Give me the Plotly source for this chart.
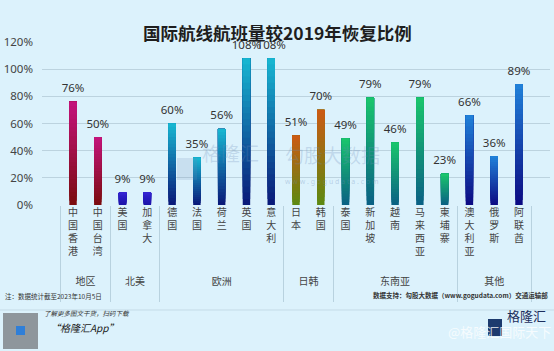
import plotly.graph_objects as go

# ---- data ----
groups = ["地区", "北美", "欧洲", "日韩", "东南亚", "其他"]
countries = [
    ["中国香港", "中国台湾"],
    ["美国", "加拿大"],
    ["德国", "法国", "荷兰", "英国", "意大利"],
    ["日本", "韩国"],
    ["泰国", "新加坡", "越南", "马来西亚", "柬埔寨"],
    ["澳大利亚", "俄罗斯", "阿联酋"],
]
values = [
    [76, 50],
    [9, 9],
    [60, 35, 56, 108, 108],
    [51, 70],
    [49, 79, 46, 79, 23],
    [66, 36, 89],
]
y_ticks = [0, 20, 40, 60, 80, 100, 120]
y_tick_labels = ["0%", "20%", "40%", "60%", "80%", "100%", "120%"]
# gradient colours per group: (top, bottom)
group_colors = [
    ((196, 20, 124), (122, 12, 14)),
    ((52, 36, 210), (28, 20, 168)),
    ((24, 184, 210), (10, 24, 120)),
    ((204, 90, 20), (92, 138, 18)),
    ((26, 198, 108), (10, 96, 132)),
    ((32, 130, 218), (12, 10, 130)),
]

W, H = 554, 351
ML, MR, MT, MB = 42, 4, 42, 146
PW, PH = W - ML - MR, H - MT - MB


def px(x):
    return (x - ML) / PW


def py(y):
    return (H - MB - y) / PH


lvl0, lvl1, vals, tops, bots = [], [], [], [], []
for g, cs, vs, (ct, cb) in zip(groups, countries, values, group_colors):
    for c, v in zip(cs, vs):
        lvl0.append("<br>" + g + "<br> ")
        lvl1.append("<br>".join(list(c)))
        vals.append(v)
        tops.append(ct)
        bots.append(cb)

xcat = [lvl0, lvl1]
fig = go.Figure()

N = 24
for k in range(N):
    f = (k + 0.5) / N
    cols = []
    for t, b in zip(tops, bots):
        r, gg, bb = [round(b[i] + (t[i] - b[i]) * f) for i in range(3)]
        cols.append(f"rgb({r},{gg},{bb})")
    fig.add_trace(go.Bar(
        x=xcat,
        y=[v * (1 - k / N) for v in vals],
        base=[v * k / N for v in vals],
        width=0.3,
        marker=dict(color=cols, line=dict(width=0)),
        showlegend=False, hoverinfo="skip",
    ))

fig.add_trace(go.Scatter(
    x=xcat, y=vals, mode="markers+text",
    text=[f"{v}%" for v in vals], textposition="top center",
    marker=dict(size=9, color="rgba(0,0,0,0)"),
    textfont=dict(size=11.5, color="#333333", family="Noto Sans, Arial"),
    cliponaxis=False, showlegend=False, hoverinfo="skip",
))

bg = "#dcf2fc"
wm = "rgba(110,140,185,0.25)"
annotations = [
    dict(text="<b>国际航线航班量较2019年恢复比例</b>", x=px(277), y=py(18),
         font=dict(size=17.5, color="#1e1e1e", family="Noto Sans CJK SC")),
    # watermarks
    dict(text="格隆汇", x=px(230), y=py(168),
         font=dict(size=19, color=wm, family="Noto Sans CJK SC")),
    dict(text="勾股大数据", x=px(332), y=py(170),
         font=dict(size=19, color=wm, family="Noto Sans CJK SC")),
    dict(text="w w w . g o g u d a t a . c o m", x=px(332), y=py(188),
         font=dict(size=7, color="rgba(110,140,185,0.35)", family="Noto Sans")),
    # footer
    dict(text="注：数据统计截至2023年10月5日", x=px(3), y=py(303), xanchor="left",
         font=dict(size=6.5, color="#333333", family="Noto Sans CJK SC")),
    dict(text="<b>数据支持：勾股大数据（www.gogudata.com）交通运输部</b>", x=px(550), y=py(302),
         xanchor="right", font=dict(size=6.5, color="#333333", family="Noto Sans CJK SC")),
    dict(text="<i>了解更多图文干货，扫码下载</i>", x=px(42), y=py(320), xanchor="left",
         font=dict(size=6.5, color="#333333", family="Noto Sans CJK SC")),
    dict(text="<i>“格隆汇App”</i>", x=px(48), y=py(337), xanchor="left",
         font=dict(size=10, color="#222222", family="Noto Sans CJK SC")),
    dict(text="格隆汇", x=px(505), y=py(327), xanchor="left",
         font=dict(size=13, color="#1c2f5e", family="Noto Sans CJK SC")),
    dict(text="@格隆汇国际天下", x=px(553), y=py(343), xanchor="right",
         font=dict(size=13, color="rgba(255,255,255,0.75)", family="Noto Sans CJK SC")),
]
for a in annotations:
    a.update(xref="paper", yref="paper", showarrow=False)

shapes = [
    dict(type="line", xref="paper", yref="paper", x0=px(0), x1=px(W), y0=py(310), y1=py(310),
         line=dict(color="#c4dbe7", width=1)),
    dict(type="rect", xref="paper", yref="paper", x0=px(3), x1=px(38), y0=py(313), y1=py(349),
         fillcolor="#8e969c", line=dict(width=0)),
    dict(type="rect", xref="paper", yref="paper", x0=px(16), x1=px(25), y0=py(326), y1=py(335),
         fillcolor="#2f7fd8", line=dict(width=0)),
    dict(type="rect", xref="paper", yref="paper", x0=px(488), x1=px(502), y0=py(319), y1=py(336),
         fillcolor="#1c3a6e", line=dict(width=0)),
    dict(type="rect", xref="paper", yref="paper", x0=px(177), x1=px(197), y0=py(158), y1=py(180),
         fillcolor="rgba(110,140,185,0.18)", line=dict(width=0)),
]

fig.update_layout(
    width=W, height=H,
    margin=dict(l=ML, r=MR, t=MT, b=MB),
    paper_bgcolor=bg, plot_bgcolor=bg,
    barmode="overlay",
    annotations=annotations, shapes=shapes,
    font=dict(family="Noto Sans CJK SC", color="#333333"),
)
fig.update_xaxes(
    type="multicategory", showgrid=False, showline=False, ticks="",
    tickfont=dict(size=10, color="#444444", family="Noto Sans CJK SC"),
    showdividers=True, dividercolor="#b8d2df", dividerwidth=1,
)
fig.update_yaxes(
    range=[0, 120], tickmode="array", tickvals=y_ticks, ticktext=y_tick_labels,
    showgrid=True, gridcolor="#bcd3df", gridwidth=1, zeroline=False, showline=False,
    tickfont=dict(size=11.5, color="#444444", family="Noto Sans"),
    ticklabelstandoff=8,
)

fig.write_html("out.html")
